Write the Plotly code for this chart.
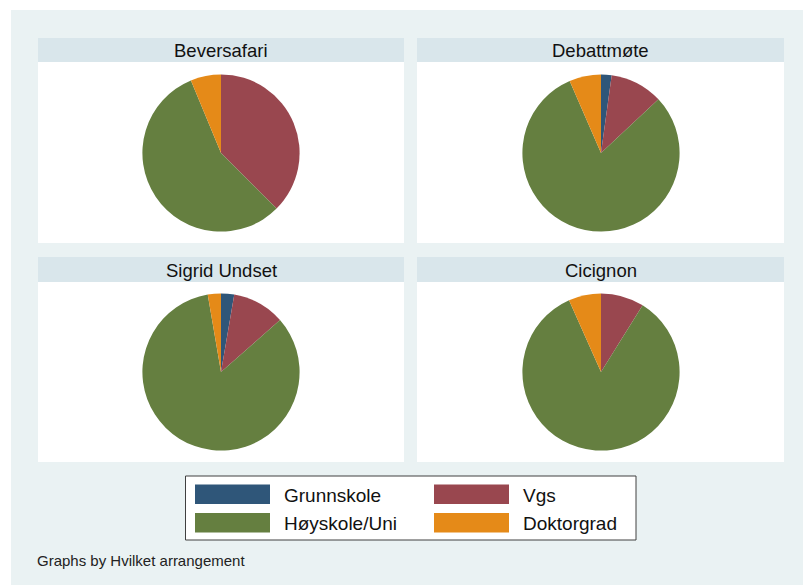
import plotly.graph_objects as go

# ---------------- data ----------------
categories = ["Grunnskole", "Vgs", "Høyskole/Uni", "Doktorgrad"]
arrangements = ["Beversafari", "Debattmøte", "Sigrid Undset", "Cicignon"]
beversafari = [0, 6, 9, 1]
debattmote = [1, 5, 37, 3]
sigrid_undset = [1, 4, 31, 1]
cicignon = [0, 4, 38, 3]
footnote = "Graphs by Hvilket arrangement"

values = [beversafari, debattmote, sigrid_undset, cicignon]

# ---------------- style ----------------
colors = ["#2F5679", "#99474F", "#657F40", "#E58A18"]
W, H = 803, 585
FONT = "Liberation Sans, Arial, sans-serif"
OUTER_BG = "#EAF2F3"
STRIP_BG = "#D9E6EB"


def px(x):
    return x / W


def py(y):
    return 1 - y / H


# panel geometry (pixels): (x0, x1, strip_y0, strip_y1, plot_y1)
panels = [
    (38, 404, 38, 62, 243),
    (417, 784, 38, 62, 243),
    (38, 404, 257, 282, 462),
    (417, 784, 257, 282, 462),
]
pie_centers = [(221, 153), (601, 153), (221, 372), (601, 372)]
R = 78.6

fig = go.Figure()
shapes = []
annotations = []

# outer graph region
shapes.append(dict(type="rect", xref="paper", yref="paper",
                   x0=px(11), x1=px(803), y0=py(585), y1=py(10),
                   fillcolor=OUTER_BG, line=dict(width=0), layer="below"))

for (x0, x1, sy0, sy1, py1), name in zip(panels, arrangements):
    shapes.append(dict(type="rect", xref="paper", yref="paper",
                       x0=px(x0), x1=px(x1), y0=py(sy1), y1=py(sy0),
                       fillcolor=STRIP_BG, line=dict(width=0), layer="below"))
    shapes.append(dict(type="rect", xref="paper", yref="paper",
                       x0=px(x0), x1=px(x1), y0=py(py1), y1=py(sy1),
                       fillcolor="white", line=dict(width=0), layer="below"))
    annotations.append(dict(text=name, xref="paper", yref="paper",
                            x=px((x0 + x1) / 2), y=py((sy0 + sy1) / 2 + 0.5),
                            xanchor="center", yanchor="middle", showarrow=False,
                            font=dict(family=FONT, size=18.5, color="#111111")))

for vals, name, (cx, cy) in zip(values, arrangements, pie_centers):
    fig.add_trace(go.Pie(
        labels=categories, values=vals, name=name,
        sort=False, direction="clockwise", rotation=0,
        marker=dict(colors=colors, line=dict(width=0)),
        textinfo="none", showlegend=False, hoverinfo="label+value+percent",
        domain=dict(x=[px(cx - R), px(cx + R)], y=[py(cy + R), py(cy - R)]),
    ))

# legend box
shapes.append(dict(type="rect", xref="paper", yref="paper",
                   x0=px(185.5), x1=px(636), y0=py(540), y1=py(476),
                   fillcolor="white", line=dict(color="#404040", width=1)))
sw_x = [195, 434, 195, 434]
sw_y = [484.5, 484.5, 513, 513]
for cat, col, sx, sy in zip(categories, colors, sw_x, sw_y):
    shapes.append(dict(type="rect", xref="paper", yref="paper",
                       x0=px(sx), x1=px(sx + 75), y0=py(sy + 19.5), y1=py(sy),
                       fillcolor=col, line=dict(width=0)))
    annotations.append(dict(text=cat, xref="paper", yref="paper",
                            x=px(sx + 87), y=py(sy + 10.5),
                            xanchor="left", yanchor="middle", showarrow=False,
                            font=dict(family=FONT, size=19, color="#111111")))

annotations.append(dict(text=footnote, xref="paper", yref="paper",
                        x=px(35), y=py(560), xanchor="left", yanchor="middle",
                        showarrow=False,
                        font=dict(family=FONT, size=15, color="#222222")))

fig.update_layout(
    width=W, height=H,
    margin=dict(l=0, r=0, t=0, b=0),
    paper_bgcolor="white", plot_bgcolor="white",
    shapes=shapes, annotations=annotations,
)

fig.write_html(
    "out.html",
    config={"displayModeBar": False},
    post_script="document.body.style.margin='0px';document.body.style.overflow='hidden';",
)
